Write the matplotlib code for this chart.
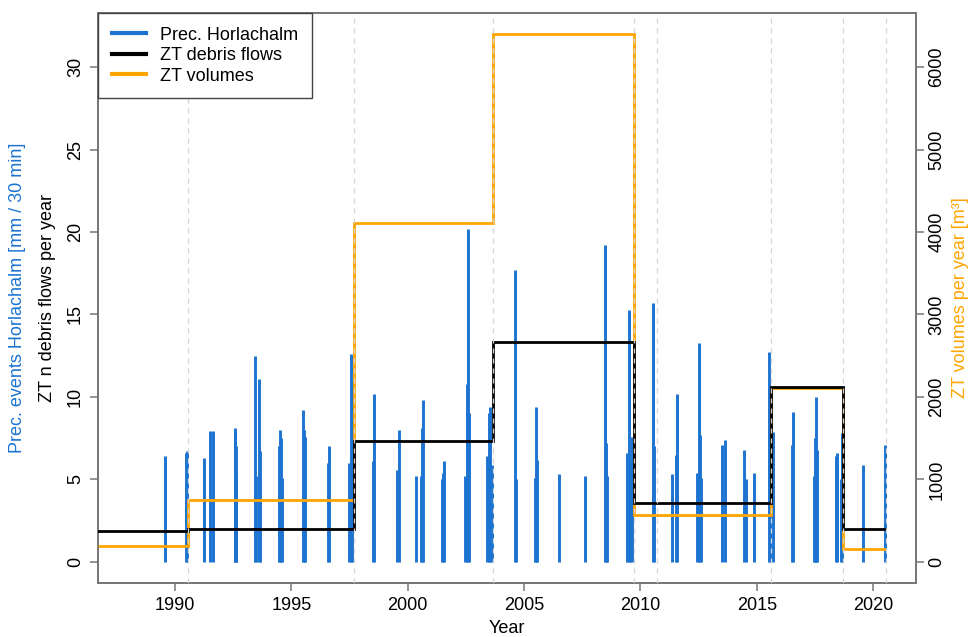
import matplotlib
matplotlib.use("Agg")
import matplotlib.pyplot as plt
import numpy as np

plt.rcParams['font.family'] = ['Liberation Sans', 'DejaVu Sans']
plt.rcParams['font.size'] = 13

# Precipitation events Horlachalm (decimal year, mm / 30 min)
prec_year = [1989.57, 1990.48, 1990.50, 1991.25, 1991.49, 1991.65,
             1992.56, 1992.58, 1992.60, 1992.64, 1993.44, 1993.47, 1993.60, 1993.64,
             1994.47, 1994.51, 1994.55, 1994.60, 1995.51, 1995.54, 1995.58,
             1996.59, 1996.63, 1997.46, 1997.55, 1997.60, 1998.50, 1998.55,
             1999.56, 1999.61, 2000.36, 2000.57, 2000.61, 2000.64,
             2001.48, 2001.52, 2001.57, 2002.48, 2002.54, 2002.59, 2002.64,
             2003.42, 2003.48, 2003.55, 2003.62, 2004.63, 2004.66,
             2005.45, 2005.50, 2005.55, 2006.49, 2007.60,
             2008.49, 2008.53, 2008.58, 2009.43, 2009.50, 2009.56, 2009.62,
             2010.53, 2010.58, 2011.37, 2011.53, 2011.59,
             2012.45, 2012.52, 2012.57, 2012.62, 2013.50, 2013.64,
             2014.47, 2014.52, 2014.87, 2015.51, 2015.57, 2015.68,
             2016.50, 2016.57, 2017.45, 2017.50, 2017.53, 2017.57,
             2018.41, 2018.46, 2018.62, 2018.65, 2019.58, 2020.51]
prec_val = [6.4, 6.6, 6.7, 6.3, 7.95, 7.95,
            8.1, 7.9, 7.05, 5.3, 12.5, 5.2, 11.1, 6.7,
            7.0, 8.0, 7.5, 5.1, 9.2, 8.0, 7.6,
            6.0, 7.0, 6.0, 12.6, 10.9, 6.1, 10.2,
            5.6, 8.0, 5.2, 5.2, 8.1, 9.8,
            5.0, 5.4, 6.1, 5.2, 10.8, 20.2, 9.0,
            6.4, 9.0, 9.4, 5.9, 17.7, 5.0,
            5.1, 9.4, 6.2, 5.3, 5.2,
            19.2, 7.2, 5.2, 6.6, 15.3, 6.1, 7.6,
            15.7, 7.0, 5.3, 6.5, 10.2,
            5.4, 13.3, 7.7, 5.1, 7.1, 7.4,
            6.8, 5.0, 5.4, 12.7, 10.4, 7.9,
            7.1, 9.1, 5.2, 7.5, 10.0, 6.8,
            6.4, 6.6, 5.0, 7.8, 5.9, 7.1]

# ZT periods: debris flows per year and volumes per year
period_edges = [1986.0, 1990.56, 1997.69, 2003.68, 2009.73, 2015.60, 2018.72, 2020.55]
debris_per_year = [1.85, 2.0, 7.33, 13.33, 3.56, 10.63, 2.0]
volume_per_year = [195, 750, 4115, 6400, 570, 2110, 155]

# dates of the dashed reference lines
event_dates = [1990.56, 1997.69, 2003.68, 2009.73, 2010.70, 2015.60, 2018.72, 2020.55]

blue = '#1C74D0'
orange = '#FFA500'
spine_col = '#777777'

fig = plt.figure(figsize=(9.72, 6.37), dpi=100)
ax = fig.add_axes([0.1008, 0.0848, 0.8416, 0.8948])

ax.vlines(prec_year, 0, prec_val, color=blue, lw=2.1, zorder=2)
ax.set_xlim(1986.69, 2021.84)
ax.set_ylim(-1.28, 33.28)
ax.set_yticks([0, 5, 10, 15, 20, 25, 30])
ax.set_xticks([1990, 1995, 2000, 2005, 2010, 2015, 2020])

ax2 = ax.twinx()
ax2.stairs(volume_per_year, period_edges, baseline=None, color=orange, lw=2, zorder=3)
ax2.set_ylim(-1.28 * 200, 33.28 * 200)
ax2.set_yticks([0, 1000, 2000, 3000, 4000, 5000, 6000])

ax3 = ax.twinx()
ax3.set_ylim(ax.get_ylim())
ax3.stairs(debris_per_year, period_edges, baseline=None, color='black', lw=2, zorder=4)
ax3.set_yticks([])
for x in event_dates:
    ax3.axvline(x, color='#d4d4d4', ls=(0, (4, 4)), lw=0.9, zorder=5)

for a in (ax, ax2, ax3):
    for s in a.spines.values():
        s.set_color(spine_col)
        s.set_linewidth(1.1)
ax.tick_params(axis='both', colors=spine_col, labelcolor='black', length=6, width=1.1, labelsize=13)
ax.tick_params(axis='x', pad=4)
ax.tick_params(axis='y', pad=4)
for lab in ax.get_yticklabels():
    lab.set_rotation(90)
    lab.set_va('center')
ax2.tick_params(axis='y', colors=spine_col, labelcolor='black', length=6, width=1.1, labelsize=13, pad=3)
for lab in ax2.get_yticklabels():
    lab.set_rotation(90)
    lab.set_va('center')

fig.text(0.0185, 0.532, 'Prec. events Horlachalm [mm / 30 min]', color=blue, rotation=90,
         ha='center', va='center', fontsize=13)
fig.text(0.0485, 0.532, 'ZT n debris flows per year', color='black', rotation=90,
         ha='center', va='center', fontsize=13)
fig.text(0.988, 0.532, 'ZT volumes per year [m³]', color=orange, rotation=90,
         ha='center', va='center', fontsize=13)
fig.text(0.5216, 0.014, 'Year', ha='center', va='center', fontsize=13)

h1, = ax.plot([], [], color=blue, lw=3)
h2, = ax.plot([], [], color='black', lw=3)
h3, = ax.plot([], [], color=orange, lw=3)
leg = ax3.legend([h1, h2, h3], ['Prec. Horlachalm', 'ZT debris flows', 'ZT volumes'],
                 loc='upper left', bbox_to_anchor=(0, 1), borderaxespad=0,
                 fancybox=False, edgecolor='#444444', framealpha=1,
                 handlelength=1.9, handletextpad=0.8, labelspacing=0.2,
                 borderpad=0.75, fontsize=13)
leg.get_frame().set_linewidth(1.0)
leg.set_zorder(10)

fig.savefig('out.png', dpi=100)
